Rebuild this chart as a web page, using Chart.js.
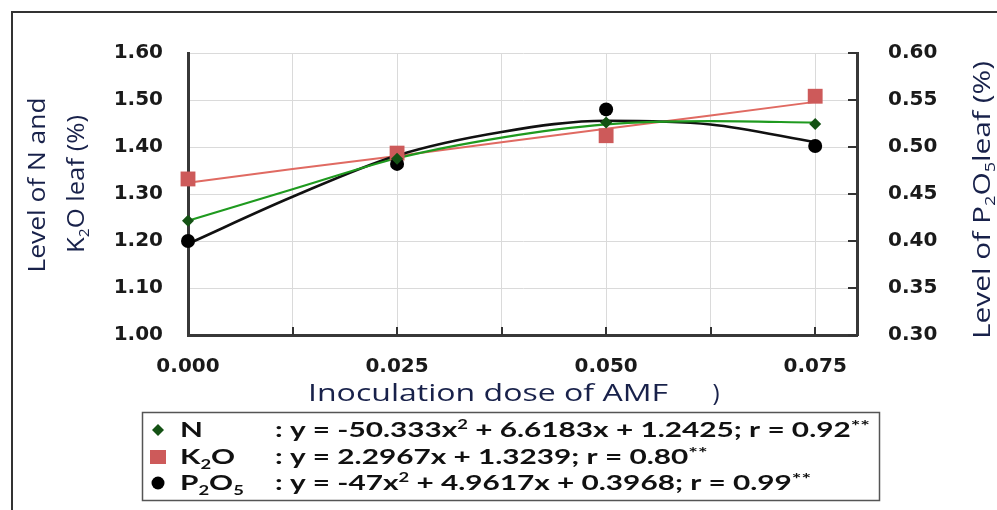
<!DOCTYPE html>
<html>
<head>
<meta charset="utf-8">
<script src="https://cdn.jsdelivr.net/npm/chart.js@4.4.0/dist/chart.umd.min.js"></script>
<style>
  html, body { margin: 0; padding: 0; background: #fff; }
</style>
</head>
<body>
<canvas id="chart" width="997" height="510"></canvas>
<script>
"use strict";
// inoculation doses (x)
const doses = [0, 0.025, 0.05, 0.075];
// observed leaf levels
const nLevel = [1.243, 1.375, 1.452, 1.449];
const k2oLevel = [1.332, 1.387, 1.424, 1.508];
const p2o5Level = [0.4, 0.482, 0.54, 0.501];
// trend lines
const trendDoses = [0, 0.0125, 0.025, 0.0375, 0.05, 0.0625, 0.075];
const nTrend = [1.243, 1.31, 1.376, 1.42, 1.448, 1.455, 1.452];
const k2oTrend = [1.324, 1.353, 1.381, 1.41, 1.439, 1.467, 1.496];
const p2o5Trend = [0.397, 0.447, 0.491, 0.516, 0.528, 0.524, 0.505];
// tick labels shown on the x axis
const xTickLabels = ["0.000", "0.025", "0.050", "0.075"];

const toPoints = (xs, ys) => xs.map((x, i) => ({ x: x, y: ys[i] }));

const navy = "#18214a";
const tickFont = { family: "DejaVu Sans", weight: "bold", size: 20 };

// draw text made of runs (normal / sup / sub), optionally stretched to a width
function drawRuns(ctx, runs, x, y, opts) {
  const size = opts.size;
  const fontFor = (kind) =>
    (opts.weight || "normal") + " " + (kind === "n" ? size : Math.round(size * (kind === "star" ? 0.75 : 0.62))) + "px " + opts.family;
  let total = 0;
  runs.forEach((r) => {
    ctx.font = fontFor(r[1]);
    total += ctx.measureText(r[0]).width;
  });
  const sx = opts.width ? opts.width / total : opts.sx || 1;
  ctx.save();
  ctx.translate(x, y);
  if (opts.rotate) ctx.rotate(opts.rotate);
  ctx.scale(sx, 1);
  ctx.fillStyle = opts.color;
  ctx.textAlign = "left";
  ctx.textBaseline = "alphabetic";
  let cx = opts.align === "center" ? -total / 2 : 0;
  const base = opts.align === "center" ? size * 0.35 : 0;
  runs.forEach((r) => {
    ctx.font = fontFor(r[1]);
    let dy = 0;
    if (r[1] === "sup") dy = -size * 0.38;
    if (r[1] === "star") dy = -size * 0.3;
    if (r[1] === "sub") dy = size * 0.22;
    ctx.fillText(r[0], cx, base + dy);
    cx += ctx.measureText(r[0]).width;
  });
  ctx.restore();
  return sx;
}

// inward tick marks on the bottom and right axes
const innerTicks = {
  id: "innerTicks",
  afterDatasetsDraw(chart) {
    const ctx = chart.ctx;
    const x = chart.scales.x;
    const y1 = chart.scales.y1;
    const area = chart.chartArea;
    ctx.save();
    ctx.strokeStyle = "#333";
    ctx.lineWidth = 2;
    x.ticks.forEach((t) => {
      if (t.value <= 0) return;
      const px = Math.round(x.getPixelForValue(t.value));
      ctx.beginPath();
      ctx.moveTo(px, area.bottom);
      ctx.lineTo(px, area.bottom - 8);
      ctx.stroke();
    });
    y1.ticks.forEach((t) => {
      const py = Math.round(y1.getPixelForValue(t.value));
      ctx.beginPath();
      ctx.moveTo(area.right, py);
      ctx.lineTo(area.right - 9, py);
      ctx.stroke();
    });
    ctx.restore();
  },
};

// frame, axis titles and the equation box
const extras = {
  id: "extras",
  afterDraw(chart) {
    const ctx = chart.ctx;
    ctx.save();
    // outer frame (top and left only, the rest is cut off)
    ctx.strokeStyle = "#333";
    ctx.lineWidth = 2;
    ctx.beginPath();
    ctx.moveTo(12, 512);
    ctx.lineTo(12, 12);
    ctx.lineTo(999, 12);
    ctx.stroke();

    const titleOpts = { family: "Open Sans", size: 23, color: navy, align: "center" };
    // left axis title, two lines
    drawRuns(ctx, [["Level of N and", "n"]], 37, 185,
      Object.assign({}, titleOpts, { rotate: -Math.PI / 2, width: 175 }));
    drawRuns(ctx, [["K", "n"], ["2", "sub"], ["O leaf (%)", "n"]], 76, 184,
      Object.assign({}, titleOpts, { rotate: -Math.PI / 2, width: 138 }));
    // right axis title
    drawRuns(ctx, [["Level of P", "n"], ["2", "sub"], ["O", "n"], ["5", "sub"], ["leaf (%)", "n"]], 982, 200,
      Object.assign({}, titleOpts, { rotate: -Math.PI / 2, width: 278 }));
    // x axis title
    drawRuns(ctx, [["Inoculation dose of AMF", "n"]], 488, 393,
      Object.assign({}, titleOpts, { size: 24, width: 360 }));
    drawRuns(ctx, [[")", "n"]], 716, 393, Object.assign({}, titleOpts, { size: 24 }));

    // equation box
    ctx.strokeStyle = "#555";
    ctx.lineWidth = 1.5;
    ctx.strokeRect(142.5, 412.5, 737, 88);

    const rowY = [430, 457, 483];
    const legFont = { family: "Lato", weight: "bold", size: 21, color: "#111" };
    const eqRuns = [
      [[": y = -50.333x", "n"], ["2", "sup"], [" + 6.6183x + 1.2425; r = 0.92", "n"], ["**", "star"]],
      [[": y = 2.2967x + 1.3239; r = 0.80", "n"], ["**", "star"]],
      [[": y = -47x", "n"], ["2", "sup"], [" + 4.9617x + 0.3968; r = 0.99", "n"], ["**", "star"]],
    ];
    const labelRuns = [
      [["N", "n"]],
      [["K", "n"], ["2", "sub"], ["O", "n"]],
      [["P", "n"], ["2", "sub"], ["O", "n"], ["5", "sub"]],
    ];
    const sx = drawRuns(ctx, eqRuns[0], 275, rowY[0] + 7, Object.assign({}, legFont, { width: 595 }));
    for (let i = 1; i < 3; i++) {
      drawRuns(ctx, eqRuns[i], 275, rowY[i] + 7, Object.assign({}, legFont, { sx: sx }));
    }
    for (let i = 0; i < 3; i++) {
      drawRuns(ctx, labelRuns[i], 180, rowY[i] + 7, Object.assign({}, legFont, { sx: sx }));
    }
    // legend markers
    ctx.fillStyle = "#145214";
    ctx.beginPath();
    ctx.moveTo(158, rowY[0] - 6);
    ctx.lineTo(164, rowY[0]);
    ctx.lineTo(158, rowY[0] + 6);
    ctx.lineTo(152, rowY[0]);
    ctx.closePath();
    ctx.fill();
    ctx.fillStyle = "#cd5a5a";
    ctx.fillRect(150, rowY[1] - 7, 16, 14);
    ctx.fillStyle = "#000";
    ctx.beginPath();
    ctx.arc(158, rowY[2], 6.5, 0, Math.PI * 2);
    ctx.fill();
    ctx.restore();
  },
};

new Chart(document.getElementById("chart"), {
  type: "scatter",
  data: {
    datasets: [
      {
        label: "N",
        data: toPoints(doses, nLevel),
        yAxisID: "y",
        pointStyle: "rectRot",
        pointRadius: 6,
        backgroundColor: "#145214",
        borderColor: "#145214",
        borderWidth: 0,
        clip: false,
      },
      {
        label: "P2O5",
        data: toPoints(doses, p2o5Level),
        yAxisID: "y1",
        pointStyle: "circle",
        pointRadius: 7,
        backgroundColor: "#000",
        borderColor: "#000",
        borderWidth: 0,
        clip: false,
      },
      {
        label: "K2O",
        data: toPoints(doses, k2oLevel),
        yAxisID: "y",
        pointStyle: "rect",
        pointRadius: 10.5,
        backgroundColor: "#cd5a5a",
        borderColor: "#cd5a5a",
        borderWidth: 0,
        clip: false,
      },
      {
        label: "N trend",
        data: toPoints(trendDoses, nTrend),
        yAxisID: "y",
        showLine: true,
        pointRadius: 0,
        borderColor: "#1f9a1f",
        borderWidth: 2.2,
        cubicInterpolationMode: "monotone",
        clip: false,
      },
      {
        label: "P2O5 trend",
        data: toPoints(trendDoses, p2o5Trend),
        yAxisID: "y1",
        showLine: true,
        pointRadius: 0,
        borderColor: "#111",
        borderWidth: 2.6,
        cubicInterpolationMode: "monotone",
        clip: false,
      },
      {
        label: "K2O trend",
        data: toPoints(trendDoses, k2oTrend),
        yAxisID: "y",
        showLine: true,
        pointRadius: 0,
        borderColor: "#e06a62",
        borderWidth: 2,
        clip: false,
      },
    ],
  },
  options: {
    responsive: false,
    animation: false,
    events: [],
    layout: { padding: { top: 53, left: 0, right: 0, bottom: 0 } },
    plugins: { legend: { display: false }, tooltip: { enabled: false } },
    scales: {
      x: {
        type: "linear",
        min: 0,
        max: 0.08,
        afterFit: (scale) => { scale.height = 175; },
        ticks: {
          stepSize: 0.0125,
          includeBounds: false,
          autoSkip: false,
          maxRotation: 0,
          padding: 20,
          color: "#1a1a1a",
          font: tickFont,
          callback: (v) => {
            const lab = xTickLabels.find((l) => Math.abs(Number(l) - v) < 1e-6);
            return lab || "";
          },
        },
        grid: { color: "#dadada", lineWidth: 1, drawTicks: false },
        border: { color: "#383838", width: 3 },
      },
      y: {
        position: "left",
        min: 1,
        max: 1.6,
        afterFit: (scale) => { scale.width = 188; },
        ticks: {
          stepSize: 0.1,
          padding: 25,
          color: "#1a1a1a",
          font: tickFont,
          callback: (v) => Number(v).toFixed(2),
        },
        grid: { color: "#dadada", lineWidth: 1, drawTicks: false },
        border: { color: "#383838", width: 3 },
      },
      y1: {
        position: "right",
        min: 0.3,
        max: 0.6,
        afterFit: (scale) => { scale.width = 140; },
        ticks: {
          stepSize: 0.05,
          padding: 31,
          color: "#1a1a1a",
          font: tickFont,
          callback: (v) => Number(v).toFixed(2),
        },
        grid: { drawOnChartArea: false, drawTicks: false },
        border: { color: "#383838", width: 3 },
      },
    },
  },
  plugins: [innerTicks, extras],
});
</script>
</body>
</html>
